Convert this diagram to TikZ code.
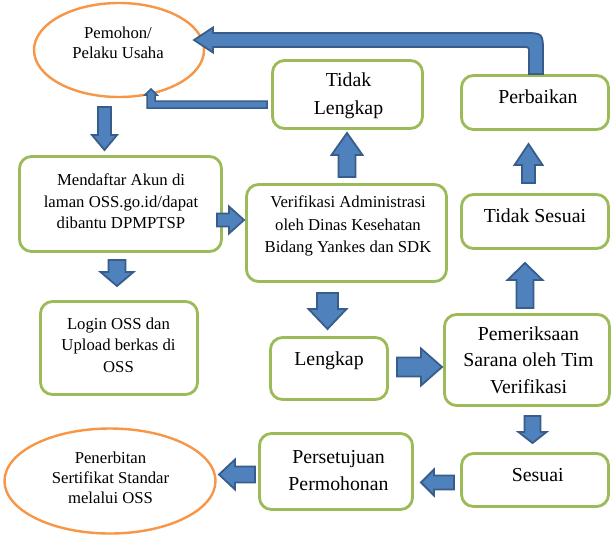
\documentclass[tikz,border=0pt]{standalone}
\usepackage{fontspec}
\setmainfont{Liberation Serif}
\usetikzlibrary{calc,shapes.geometric}
\definecolor{boxgreen}{HTML}{9BBB59}
\definecolor{ovalorange}{HTML}{F79646}
\definecolor{arrfill}{HTML}{4F81BD}
\definecolor{arrline}{HTML}{385D8A}
\newcommand\blockarrow[5]{% from, to, half shaft, half head, head length
  \path (#1); \pgfgetlastxy{\baAx}{\baAy}
  \path (#2); \pgfgetlastxy{\baBx}{\baBy}
  \pgfmathsetmacro\baAng{atan2(\baBy-\baAy,\baBx-\baAx)}
  \pgfmathsetmacro\baLen{veclen(\baBx-\baAx,\baBy-\baAy)}
  \begin{scope}[shift={(\baAx,\baAy)}, rotate=\baAng]
    \draw[blockarrow] (0,-#3) -- ({\baLen-#5},-#3) -- ({\baLen-#5},-#4) -- (\baLen,0)
      -- ({\baLen-#5},#4) -- ({\baLen-#5},#3) -- (0,#3) -- cycle;
  \end{scope}
}
\tikzset{
  box/.style={draw=boxgreen, line width=2.8pt, rounded corners=12pt, fill=white, inner sep=0pt},
  oval/.style={ellipse, draw=ovalorange, line width=2.4pt, fill=white, inner sep=0pt},
  smalltext/.style={font=\fontsize{16.7}{21.5}\selectfont, align=center, inner sep=0pt},
  bigtext/.style={font=\fontsize{19.8}{27}\selectfont, align=center, inner sep=0pt},
  blockarrow/.style={draw=arrline, fill=arrfill, line width=1.8pt},
}
\begin{document}
\begin{tikzpicture}[x=1pt,y=-1pt]
\path[use as bounding box, fill=white] (0,0) rectangle (612,536);

% shapes
\node[oval, minimum width=170pt, minimum height=94pt] (pemohon) at (119,50) {};
\node[box, minimum width=150pt, minimum height=68pt] (tl) at (347.5,94.5) {};
\node[box, minimum width=147pt, minimum height=54pt] (perb) at (535,102.5) {};
\node[box, minimum width=147pt, minimum height=54pt] (ts) at (535,221.5) {};
\node[box, minimum width=200pt, minimum height=97pt] (verif) at (346.5,233) {};
\node[box, minimum width=202pt, minimum height=95pt] (daftar) at (120.5,204) {};
\node[box, minimum width=157pt, minimum height=93pt] (login) at (119,348) {};
\node[box, minimum width=117pt, minimum height=62pt] (lengkap) at (329,368.5) {};
\node[box, minimum width=165pt, minimum height=91pt] (periksa) at (527,360) {};
\node[box, minimum width=147pt, minimum height=53pt] (sesuai) at (535,480) {};
\node[box, minimum width=153pt, minimum height=76pt] (setuju) at (336,471.5) {};
\node[oval, minimum width=211pt, minimum height=105pt] (terbit) at (110,481) {};

% texts
\node[smalltext, font=\fontsize{16.7}{20}\selectfont] (pemohon-t) at (118,43) {Pemohon/\\Pelaku Usaha};
\node[bigtext, font=\fontsize{19.8}{28}\selectfont] (tl-t) at (348.5,96) {Tidak\\Lengkap};
\node[bigtext] (perb-t) at (538,97) {Perbaikan};
\node[bigtext] (ts-t) at (535,216) {Tidak Sesuai};
\node[smalltext, font=\fontsize{16.7}{22.5}\selectfont] (verif-t) at (348,226) {Verifikasi Administrasi\\oleh Dinas Kesehatan\\Bidang Yankes dan SDK};
\node[smalltext] (daftar-t) at (121,201.5) {Mendaftar Akun di\\laman OSS.go.id/dapat\\dibantu DPMPTSP};
\node[smalltext, font=\fontsize{16.7}{21.7}\selectfont] (login-t) at (118.5,345) {Login OSS dan\\Upload berkas di\\OSS};
\node[bigtext] (lengkap-t) at (329,360.5) {Lengkap};
\node[bigtext, font=\fontsize{19.8}{26.7}\selectfont] (periksa-t) at (528.5,360) {Pemeriksaan\\Sarana oleh Tim\\Verifikasi};
\node[bigtext] (sesuai-t) at (537.7,475) {Sesuai};
\node[bigtext] (setuju-t) at (338.5,470.5) {Persetujuan\\Permohonan};
\node[smalltext, font=\fontsize{16.7}{20}\selectfont] (terbit-t) at (110.5,478) {Penerbitan\\Sertifikat Standar\\melalui OSS};

% arrow end points
\coordinate (a1s) at (104.5,107);  \coordinate (a1e) at (104.5,150);
\coordinate (a2s) at (117,260);    \coordinate (a2e) at (117,286);
\coordinate (a3s) at (217,220);    \coordinate (a3e) at (244,220);
\coordinate (a4s) at (347,177);    \coordinate (a4e) at (347,133);
\coordinate (a5s) at (327.5,293);  \coordinate (a5e) at (327.5,329);
\coordinate (a6s) at (397,367);    \coordinate (a6e) at (442,367);
\coordinate (a7s) at (525,308);    \coordinate (a7e) at (525,263);
\coordinate (a8s) at (528.5,183);  \coordinate (a8e) at (528.5,144);
\coordinate (a9s) at (532.5,416);  \coordinate (a9e) at (532.5,443);
\coordinate (a10s) at (454,482.5); \coordinate (a10e) at (421,482.5);
\coordinate (a11s) at (255,474.5); \coordinate (a11e) at (219,474.5);

\blockarrow{a1s}{a1e}{6.5}{12.5}{15}
\blockarrow{a2s}{a2e}{8.5}{16.5}{14}
\blockarrow{a3s}{a3e}{6.5}{13.5}{15}
\blockarrow{a4s}{a4e}{8.5}{15.5}{22}
\blockarrow{a5s}{a5e}{10.5}{19}{20}
\blockarrow{a6s}{a6e}{9.5}{18.5}{21}
\blockarrow{a7s}{a7e}{8.5}{17.5}{17}
\blockarrow{a8s}{a8e}{6.5}{14}{21}
\blockarrow{a9s}{a9e}{8}{14}{11}
\blockarrow{a10s}{a10e}{7}{13}{13}
\blockarrow{a11s}{a11e}{8}{15}{16}

% bent arrow Perbaikan -> Pemohon
\draw[blockarrow] (529,74) -- (529,53) .. controls (529,47) .. (523,47) -- (213,47) -- (213,52.5)
  -- (194,40) -- (213,27.5) -- (213,33) -- (523,33) .. controls (543,33) .. (543,53) -- (543,74) -- cycle;

% thin bent arrow Tidak Lengkap -> Pemohon
\draw[blockarrow, line width=1.5pt] (267,101) -- (155,101) -- (155,95) -- (157,95) -- (151,89)
  -- (145,95) -- (147,95) -- (147,108) -- (267,108) -- cycle;
\end{tikzpicture}
\end{document}
